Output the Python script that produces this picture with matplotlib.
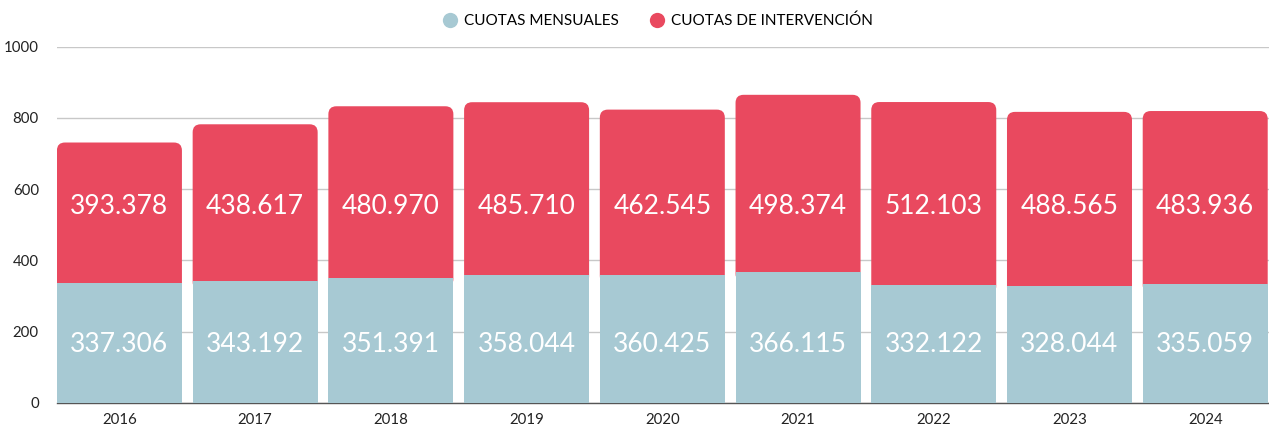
import matplotlib
matplotlib.use("Agg")
import matplotlib.pyplot as plt
from matplotlib.patches import FancyBboxPatch, Rectangle
from matplotlib.lines import Line2D

years = ["2016", "2017", "2018", "2019", "2020", "2021", "2022", "2023", "2024"]
cuotas_mensuales = [337306, 343192, 351391, 358044, 360425, 366115, 332122, 328044, 335059]
cuotas_intervencion = [393378, 438617, 480970, 485710, 462545, 498374, 512103, 488565, 483936]
yticks = [0, 200, 400, 600, 800, 1000]

BLUE = "#A7C9D3"
RED = "#E9495F"
FONT = ["Lato", "DejaVu Sans"]

plt.rcParams["font.family"] = FONT

fig = plt.figure(figsize=(12.69, 4.26), dpi=100)
ax = fig.add_axes([57 / 1269, 1 - 403 / 426, 1212 / 1269, (403 - 46.5) / 426])
ax.set_xlim(-0.46, 8.47)
ax.set_ylim(0, 1000)

width = 0.921
px_x = 1212 / (8.47 + 0.46)
px_y = (403 - 46.5) / 1000
r_px = 8
rx = r_px / px_x
aspect = (r_px / px_y) / rx

for i, (b, r) in enumerate(zip(cuotas_mensuales, cuotas_intervencion)):
    bv = b / 1000
    rv = r / 1000
    total = bv + rv
    start = bv - 26
    red = FancyBboxPatch((i - width / 2, start), width, total - start,
                         boxstyle=f"round,pad=0,rounding_size={rx}",
                         mutation_aspect=aspect, facecolor=RED, edgecolor="none", zorder=2)
    ax.add_patch(red)
    blue = Rectangle((i - width / 2, 0), width, bv, facecolor=BLUE, edgecolor="none", zorder=3)
    ax.add_patch(blue)
    ax.text(i, 164, f"{b:,}".replace(",", "."), ha="center", va="center",
            color="white", fontsize=19, zorder=4)
    ax.text(i, 551, f"{r:,}".replace(",", "."), ha="center", va="center",
            color="white", fontsize=19, zorder=4)

ax.set_yticks(yticks)
ax.set_yticklabels([str(t) for t in yticks])
ax.set_xticks(range(len(years)))
ax.set_xticklabels(years)
ax.yaxis.grid(True, color="#C8C8C8", linewidth=1)
ax.set_axisbelow(True)
for s in ["top", "right", "left"]:
    ax.spines[s].set_visible(False)
ax.spines["bottom"].set_color("#555555")
ax.spines["bottom"].set_linewidth(1)
ax.tick_params(axis="both", length=0, labelsize=10.8, colors="#222222")
ax.tick_params(axis="y", pad=13)
ax.tick_params(axis="x", pad=7)

handles = [
    Line2D([], [], marker="o", linestyle="none", markersize=11, markerfacecolor=BLUE, markeredgecolor="none"),
    Line2D([], [], marker="o", linestyle="none", markersize=11, markerfacecolor=RED, markeredgecolor="none"),
]
ax.legend(handles, ["CUOTAS MENSUALES", "CUOTAS DE INTERVENCIÓN"], loc="lower center",
          bbox_to_anchor=(0.4925, 1.035), ncol=2, frameon=False, fontsize=11,
          handletextpad=-0.1, columnspacing=1.5, borderaxespad=0)

fig.savefig("out.png", dpi=100)
